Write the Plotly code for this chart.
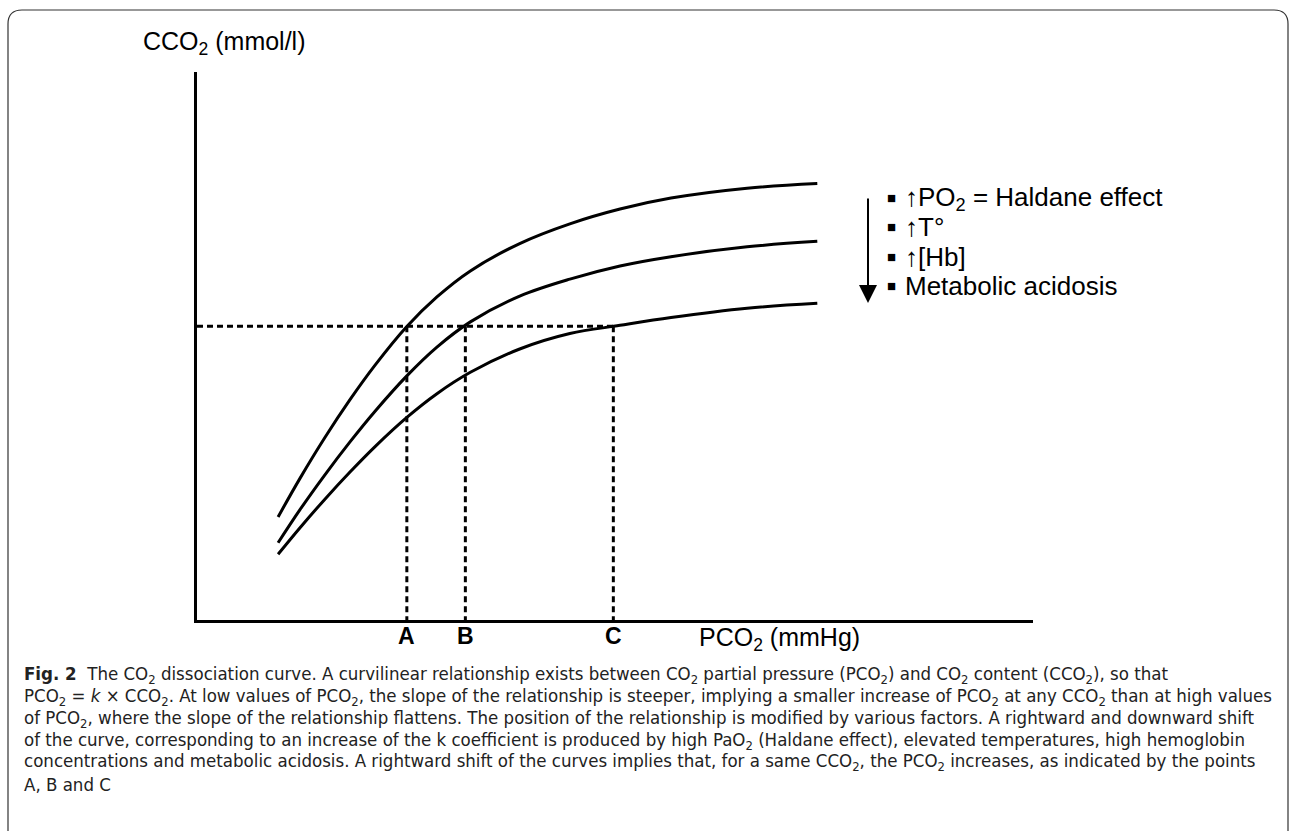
import plotly.graph_objects as go

# ---- data (arbitrary units) ----
pco2 = [9.7, 12.3, 15.3, 18.3, 21.3, 25.1, 28.7, 32.7, 38.6, 44.6, 50.6, 56.7, 65.8, 74.2]
cco2_high = [18.8, 25.8, 33.3, 40.2, 46.5, 53.55, 58.95, 63.7, 68.7, 72.3, 75.0, 77.0, 78.8, 79.65]
cco2_mid = [14.1, 20.1, 26.5, 32.5, 38.1, 44.55, 49.8, 54.4, 59.1, 62.2, 64.6, 66.3, 68.1, 69.1]
cco2_low = [12.0, 16.8, 22.05, 27.0, 31.65, 36.97, 41.3, 45.2, 49.45, 52.27, 53.77, 55.2, 56.9, 57.8]
ref_cco2 = 53.6
point_labels = ["A", "B", "C"]
point_pco2 = [25.1, 32.1, 49.8]
legend_items = ["↑PO<sub>2</sub> = Haldane effect", "↑T°", "↑[Hb]", "Metabolic acidosis"]
caption_lines = [
    "<b>Fig. 2</b>  The CO<sub>2</sub> dissociation curve. A curvilinear relationship exists between CO<sub>2</sub> partial pressure (PCO<sub>2</sub>) and CO<sub>2</sub> content (CCO<sub>2</sub>), so that",
    "PCO<sub>2</sub> = <i>k</i> × CCO<sub>2</sub>. At low values of PCO<sub>2</sub>, the slope of the relationship is steeper, implying a smaller increase of PCO<sub>2</sub> at any CCO<sub>2</sub> than at high values",
    "of PCO<sub>2</sub>, where the slope of the relationship flattens. The position of the relationship is modified by various factors. A rightward and downward shift",
    "of the curve, corresponding to an increase of the k coefficient is produced by high PaO<sub>2</sub> (Haldane effect), elevated temperatures, high hemoglobin",
    "concentrations and metabolic acidosis. A rightward shift of the curves implies that, for a same CCO<sub>2</sub>, the PCO<sub>2</sub> increases, as indicated by the points",
    "A, B and C",
]

# ---- layout geometry (pixels) ----
W, H = 1290, 831
L, R, T, B = 197, 1033, 72, 620
PW, PH = R - L, B - T


def px(x):
    return (x - L) / PW


def py(y):
    return (B - y) / PH


FONT = "Liberation Sans, Arial, Helvetica, sans-serif"
CAPFONT = "DejaVu Sans Condensed, Liberation Sans Narrow, Open Sans, sans-serif"

fig = go.Figure()
line_style = dict(color="black", width=3, shape="spline", smoothing=1.0)
for ys in (cco2_high, cco2_mid, cco2_low):
    fig.add_trace(go.Scatter(x=pco2, y=ys, mode="lines", line=line_style, hoverinfo="skip"))

# dashed reference lines
dx = [0, point_pco2[-1], None]
dy = [ref_cco2, ref_cco2, None]
for p in point_pco2:
    dx += [p, p, None]
    dy += [ref_cco2, 0, None]
fig.add_trace(go.Scatter(x=dx, y=dy, mode="lines",
                         line=dict(color="black", width=3, dash="6px,4px"), hoverinfo="skip"))

ann = []
for lab, p in zip(point_labels, point_pco2):
    ann.append(dict(x=p, y=0, xref="x", yref="y", yanchor="top", yshift=-1,
                    text=f"<b>{lab}</b>", showarrow=False,
                    font=dict(family=FONT, size=23, color="black")))

ann.append(dict(x=px(141), y=py(43), xref="paper", yref="paper", xanchor="left", yanchor="middle",
                text="CCO<sub>2</sub> (mmol/l)", showarrow=False,
                font=dict(family=FONT, size=25, color="black")))
ann.append(dict(x=px(697), y=py(639), xref="paper", yref="paper", xanchor="left", yanchor="middle",
                text="PCO<sub>2</sub> (mmHg)", showarrow=False,
                font=dict(family=FONT, size=25, color="black")))

# legend-like list with arrow
leg_y = [198, 227, 257, 286]
for txt, yy in zip(legend_items, leg_y):
    ann.append(dict(x=px(891), y=py(yy - 1), xref="paper", yref="paper", xanchor="center", yanchor="middle",
                    text="■", showarrow=False, font=dict(family=FONT, size=15, color="black")))
    ann.append(dict(x=px(903), y=py(yy), xref="paper", yref="paper", xanchor="left", yanchor="middle",
                    text=txt, showarrow=False, font=dict(family=FONT, size=26, color="black")))
ann.append(dict(x=px(868), y=py(303), xref="paper", yref="paper", ax=0, ay=-106,
                axref="pixel", ayref="pixel", text="", showarrow=True,
                arrowhead=2, arrowsize=1.8, arrowwidth=2, arrowcolor="black"))

# caption
cap_y = [675, 697, 719, 741, 762, 784]
for txt, yy in zip(caption_lines, cap_y):
    ann.append(dict(x=px(22), y=py(yy), xref="paper", yref="paper", xanchor="left", yanchor="middle",
                    text=txt, showarrow=False, font=dict(family=CAPFONT, size=18.5, color="#222")))

# frame (rounded rectangle, bottom outside the page)
x0, y0, x1, y1, r = 8, 10, 1288, 850, 14
path = (f"M {px(x0)},{py(y0 + r)} Q {px(x0)},{py(y0)} {px(x0 + r)},{py(y0)} "
        f"L {px(x1 - r)},{py(y0)} Q {px(x1)},{py(y0)} {px(x1)},{py(y0 + r)} "
        f"L {px(x1)},{py(y1)} M {px(x0)},{py(y0 + r)} L {px(x0)},{py(y1)}")
shapes = [dict(type="path", xref="paper", yref="paper", path=path,
               line=dict(color="#333", width=1.2))]

axis_common = dict(showline=True, linewidth=3, linecolor="black", showgrid=False, zeroline=False,
                   showticklabels=False, ticks="", range=[0, 100], fixedrange=True)
fig.update_layout(
    width=W, height=H, autosize=False,
    margin=dict(l=L, r=W - R, t=T, b=H - B),
    paper_bgcolor="white", plot_bgcolor="white",
    showlegend=False,
    xaxis=axis_common, yaxis=axis_common,
    annotations=ann, shapes=shapes,
)
fig.write_html("out.html", config={"displayModeBar": False},
               post_script="document.body.style.margin='0px';document.body.style.overflow='hidden';")
